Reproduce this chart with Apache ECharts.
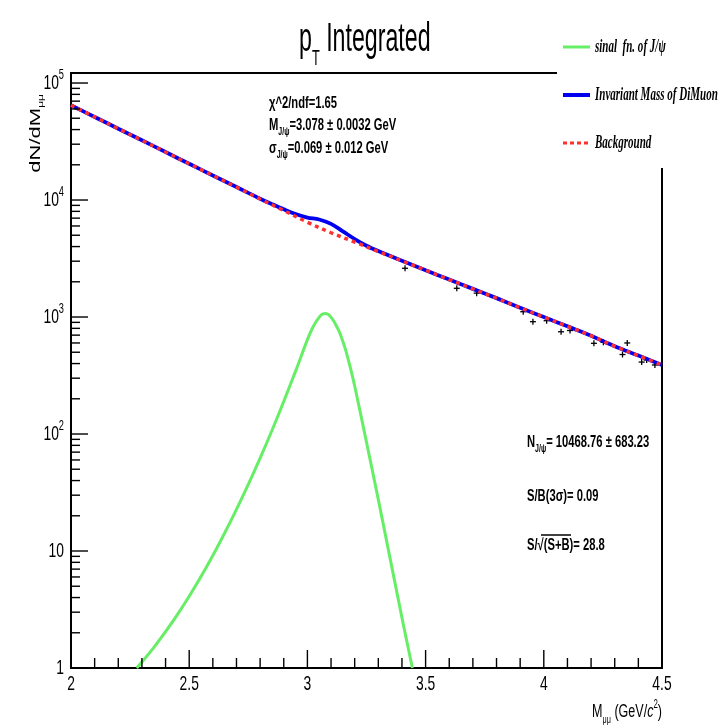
<!DOCTYPE html>
<html><head><meta charset="utf-8">
<script src="https://cdn.jsdelivr.net/npm/echarts@6/dist/echarts.min.js"></script>
<style>html,body{margin:0;padding:0;background:#fff}#c{width:722px;height:725px}</style>
</head><body><div id="c"></div>
<script>
// ---- data ----
const bgMass = [2.0,2.1,2.2,2.3,2.4,2.5,2.6,2.7,2.8,2.9,3.0,3.1,3.2,3.3,3.4,3.5,3.6,3.7,3.8,3.9,4.0,4.1,4.2,4.3,4.4,4.5];
const bgVals = [64600,51300,40700,32400,25700,20400,16200,12900,10200,8130,6460,5250,4370,3630,3020,2510,2090,1740,1450,1200,1000,832,692,562,468,389];

const totMass = [2.0,2.1,2.2,2.3,2.4,2.5,2.6,2.7,2.8,2.85,2.9,2.95,3.0,3.05,3.1,3.15,3.2,3.25,3.3,3.4,3.5,3.6,3.7,3.8,3.9,4.0,4.1,4.2,4.3,4.4,4.5];
const totVals = [64600,51300,40700,32400,25700,20400,16200,12900,10250,9220,8330,7590,7080,6820,6250,5400,4640,4070,3660,3020,2510,2090,1740,1450,1200,1000,832,692,562,468,389];

const sigMass = [2.278,2.30,2.35,2.40,2.45,2.50,2.55,2.60,2.65,2.70,2.75,2.80,2.85,2.90,2.95,3.00,3.02,3.04,3.06,3.075,3.09,3.11,3.125,3.138,3.16,3.18,3.20,3.25,3.30,3.35,3.40,3.444];
const sigVals = [1.0,1.124,1.494,2.042,2.858,4.104,6.046,9.147,14.24,22.70,37.09,62.2,107.1,190.1,344.5,641,794,933,1047,1072,1047,933,822,724,537,380,257,85.1,27.5,8.61,2.69,1.0];

const dataMass = [3.413,3.632,3.716,3.913,3.954,4.012,4.073,4.111,4.212,4.252,4.333,4.353,4.414,4.435,4.47];
const dataVals = [2610,1760,1600,1110,912,930,748,767,596,608,478,600,412,429,389];

const xTickMajor = [2,2.5,3,3.5,4,4.5];
const xTickLabels = ['2','2.5','3','3.5','4','4.5'];
const xTickMinor = [2.1,2.2,2.3,2.4,2.6,2.7,2.8,2.9,3.1,3.2,3.3,3.4,3.6,3.7,3.8,3.9,4.1,4.2,4.3,4.4];
const yTickMajor = [1,10,100,1000,10000,100000];
const yTickBase = ['1','10','10','10','10','10'];
const yTickExp = ['','','2','3','4','5'];
const yTickMinor = [2,3,4,5,6,7,8,9,20,30,40,50,60,70,80,90,200,300,400,500,600,700,800,900,2000,3000,4000,5000,6000,7000,8000,9000,20000,30000,40000,50000,60000,70000,80000,90000];

const X_MIN = 2, X_MAX = 4.5, Y_MIN = 1, Y_MAX = 121800;
const SX = 0.66;
const SANS = '"Liberation Sans", Arial, sans-serif';
const SERIF = '"Liberation Serif", "Times New Roman", serif';

const chart = echarts.init(document.getElementById('c'), null, {renderer:'canvas'});

const xTickData = xTickMajor.map((v,i)=>[v, Y_MIN, 1, i]).concat(xTickMinor.map(v=>[v, Y_MIN, 0, -1]));
const yTickData = yTickMajor.map((v,i)=>[X_MIN, v, 1, i]).concat(yTickMinor.map(v=>[X_MIN, v, 0, -1]));

function xTickRender(params, api){
  const v = api.value(0), major = api.value(2), li = api.value(3);
  const p = api.coord([v, Y_MIN]);
  const len = major ? 18 : 10;
  const ch = [{type:'line', shape:{x1:p[0], y1:p[1], x2:p[0], y2:p[1]-len}, style:{stroke:'#000', lineWidth:1.4}}];
  if (major) ch.push({type:'text', x:p[0], y:p[1]+6, scaleX:SX,
    style:{text:xTickLabels[li], font:'21px '+SANS, fill:'#000', align:'center', verticalAlign:'top'}});
  return {type:'group', children:ch};
}
function yTickRender(params, api){
  const v = api.value(1), major = api.value(2), li = api.value(3);
  const p = api.coord([X_MIN, v]);
  const len = major ? 17 : 9;
  const ch = [{type:'line', shape:{x1:p[0], y1:p[1], x2:p[0]+len, y2:p[1]}, style:{stroke:'#000', lineWidth:1.4}}];
  if (major) {
    const t = yTickExp[li] ? '{b|'+yTickBase[li]+'}{e|'+yTickExp[li]+'}' : '{b|'+yTickBase[li]+'}';
    ch.push({type:'text', x:p[0]-7, y:p[1], scaleX:SX,
      style:{text:t, align:'right', verticalAlign:'middle', fill:'#000',
        rich:{b:{fontSize:21, fontFamily:SANS, lineHeight:30, verticalAlign:'middle'},
              e:{fontSize:14, fontFamily:SANS, lineHeight:16, verticalAlign:'top'}}}});
  }
  return {type:'group', children:ch};
}
function dataRender(params, api){
  const p = api.coord([api.value(0), api.value(1)]);
  return {type:'group', children:[
    {type:'line', shape:{x1:p[0]-3, y1:p[1], x2:p[0]+3, y2:p[1]}, style:{stroke:'#000', lineWidth:1.3}},
    {type:'line', shape:{x1:p[0], y1:p[1]-3, x2:p[0], y2:p[1]+3}, style:{stroke:'#000', lineWidth:1.3}}
  ]};
}

const richSmall = {
  n:{fontSize:16, fontFamily:SANS, fontWeight:'bold', lineHeight:22, verticalAlign:'middle'},
  s:{fontSize:10, fontFamily:SANS, fontWeight:'bold', lineHeight:11, verticalAlign:'bottom'}
};
function note(x, y, t){
  return {type:'text', x:x, y:y, scaleX:0.7, z:50,
    style:{text:t, rich:richSmall, fill:'#000', align:'left', verticalAlign:'middle'}};
}
const legendFont = 'italic bold 19px '+SERIF;
const LSX = 0.58;

const option = {
  animation:false,
  backgroundColor:'#fff',
  grid:{left:71, right:60, top:73, bottom:57, show:true, borderColor:'#000', borderWidth:2, backgroundColor:'transparent'},
  xAxis:{type:'value', min:X_MIN, max:X_MAX, axisLine:{show:false}, axisTick:{show:false}, axisLabel:{show:false}, splitLine:{show:false}},
  yAxis:{type:'log', logBase:10, min:Y_MIN, max:Y_MAX, axisLine:{show:false}, axisTick:{show:false}, axisLabel:{show:false}, splitLine:{show:false}},
  series:[
    {name:'Invariant Mass of DiMuon', type:'line', data:totMass.map((x,i)=>[x,totVals[i]]), smooth:0.35, symbol:'none',
      lineStyle:{color:'#0000ee', width:3.8}, z:3},
    {name:'Background', type:'line', data:bgMass.map((x,i)=>[x,bgVals[i]]), smooth:0.35, symbol:'none',
      lineStyle:{color:'#ff3030', width:3.5, type:[4,4]}, z:4},
    {name:'sinal  fn. of J/ψ', type:'line', data:sigMass.map((x,i)=>[x,sigVals[i]]), smooth:0.3, symbol:'none',
      lineStyle:{color:'#66ee66', width:3}, z:3},
    {name:'data', type:'custom', data:dataMass.map((x,i)=>[x,dataVals[i]]), renderItem:dataRender, z:2},
    {name:'xticks', type:'custom', data:xTickData, renderItem:xTickRender, clip:false, z:5, silent:true},
    {name:'yticks', type:'custom', data:yTickData, renderItem:yTickRender, clip:false, z:5, silent:true}
  ],
  graphic:[
    // title
    {type:'text', x:299, y:40, scaleX:0.58, z:50,
      style:{text:'{p|p}{t|T}{p| Integrated}', fill:'#000', align:'left', verticalAlign:'middle',
        rich:{p:{fontSize:40, fontFamily:SANS, lineHeight:60, verticalAlign:'middle'},
              t:{fontSize:22, fontFamily:SANS, lineHeight:22, verticalAlign:'bottom'}}}},
    // legend box
    {type:'rect', shape:{x:557, y:20, width:165, height:148}, style:{fill:'#fff'}, z:40},
    {type:'line', shape:{x1:563, y1:47, x2:590, y2:47}, style:{stroke:'#66ee66', lineWidth:3}, z:41},
    {type:'line', shape:{x1:563, y1:95, x2:590, y2:95}, style:{stroke:'#0000ee', lineWidth:4}, z:41},
    {type:'line', shape:{x1:563, y1:143, x2:590, y2:143}, style:{stroke:'#ff3030', lineWidth:3, lineDash:[4,3]}, z:41},
    {type:'text', x:595, y:47, scaleX:LSX, z:41, style:{text:'sinal  fn. of J/ψ', font:legendFont, fill:'#000', verticalAlign:'middle'}},
    {type:'text', x:595, y:95, scaleX:LSX, z:41, style:{text:'Invariant Mass of DiMuon', font:legendFont, fill:'#000', verticalAlign:'middle'}},
    {type:'text', x:595, y:143, scaleX:LSX, z:41, style:{text:'Background', font:legendFont, fill:'#000', verticalAlign:'middle'}},
    // fit notes
    note(269, 104, '{n|χ^2/ndf=1.65}'),
    note(269, 126, '{n|M}{s|J/ψ}{n|=3.078 ± 0.0032 GeV}'),
    note(269, 149, '{n|σ}{s|J/ψ}{n|=0.069 ± 0.012 GeV}'),
    note(527, 443, '{n|N}{s|J/ψ}{n|= 10468.76 ± 683.23}'),
    note(527, 497, '{n|S/B(3σ)= 0.09}'),
    note(527, 546, '{n|S/√(S+B)= 28.8}'),
    {type:'line', shape:{x1:541, y1:535, x2:571, y2:535}, style:{stroke:'#000', lineWidth:1.5}, z:50},
    // axis titles
    {type:'text', x:662, y:712, scaleX:SX, z:50,
      style:{text:'{m|M}{s|μμ}{m| (GeV/}{c|c}{u|2}{m|)}', fill:'#000', align:'right', verticalAlign:'middle',
        rich:{m:{fontSize:19, fontFamily:SANS, lineHeight:26, verticalAlign:'middle'},
              c:{fontSize:19, fontFamily:SANS, fontStyle:'italic', lineHeight:26, verticalAlign:'middle'},
              s:{fontSize:11, fontFamily:SANS, lineHeight:12, verticalAlign:'bottom'},
              u:{fontSize:12, fontFamily:SANS, lineHeight:14, verticalAlign:'top'}}}},
    {type:'text', x:36, y:94, rotation:Math.PI/2, scaleY:SX, z:50,
      style:{text:'{m|dN/dM}{s|μμ}', fill:'#000', align:'right', verticalAlign:'middle',
        rich:{m:{fontSize:22, fontFamily:SANS, lineHeight:28, verticalAlign:'middle'},
              s:{fontSize:12, fontFamily:SANS, lineHeight:13, verticalAlign:'bottom'}}}}
  ]
};
chart.setOption(option);
</script></body></html>
